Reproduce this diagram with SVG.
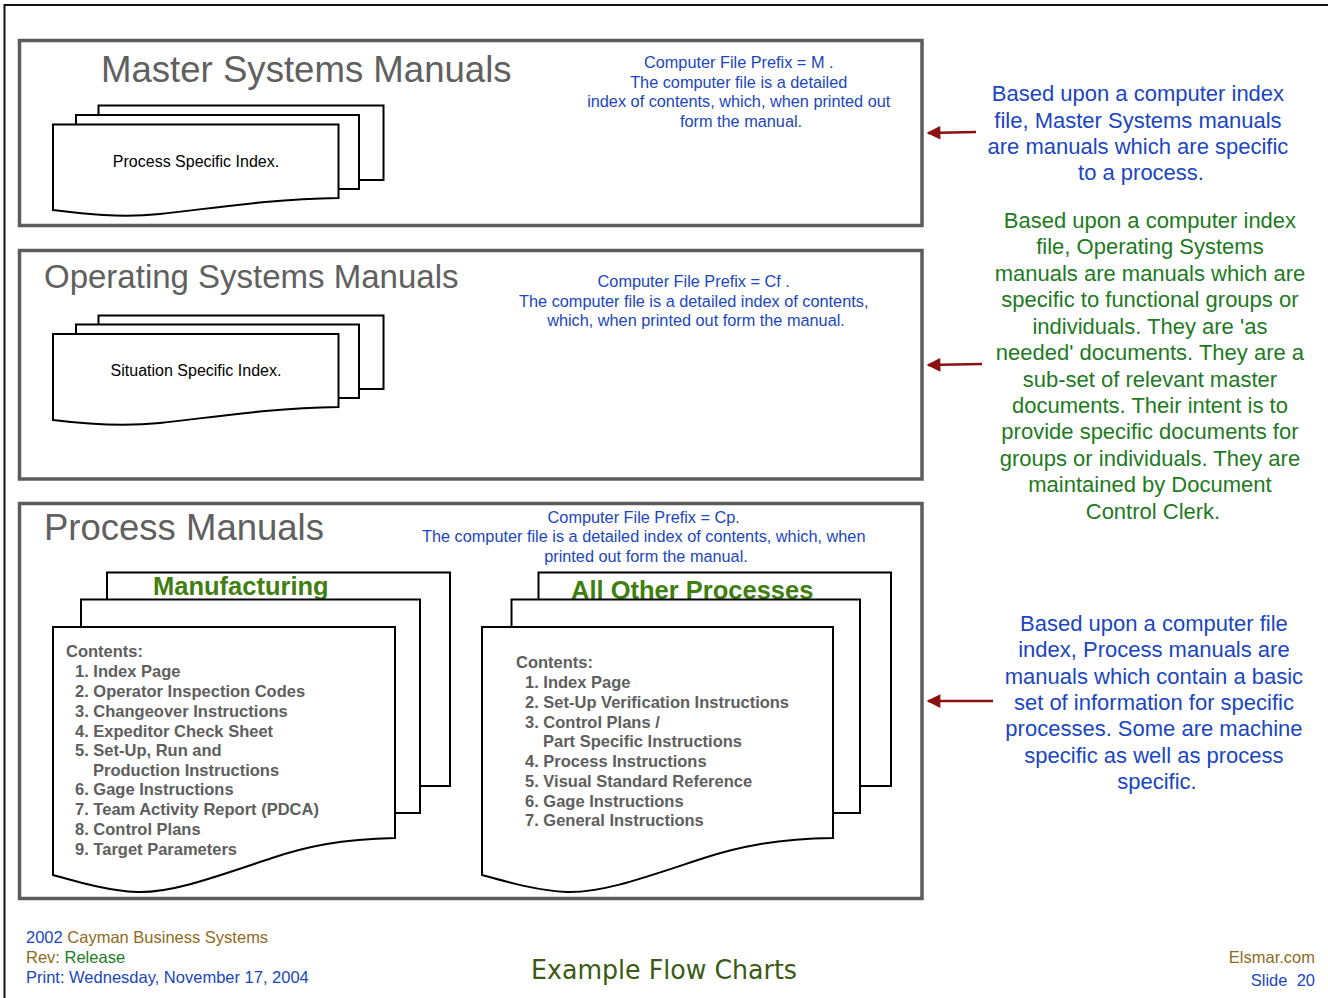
<svg xmlns="http://www.w3.org/2000/svg" width="1328" height="998" viewBox="0 0 1328 998">
  <defs>
    <style>
      .frame { fill: none; stroke: #111; stroke-width: 2; }
      .panel { fill: #fff; stroke: #5c5c5c; stroke-width: 3.5; }
      .page { fill: #fff; stroke: #000; stroke-width: 2; stroke-linejoin: miter; }
      .title { font-family: "Liberation Sans", Arial, sans-serif; fill: #606060; }
      .note { font-family: "Liberation Sans", Arial, sans-serif; font-size: 16.3px; fill: #1a46c0; text-anchor: middle; }
      .label { font-family: "Liberation Sans", Arial, sans-serif; font-size: 16px; fill: #000; text-anchor: middle; }
      .side { font-family: "Liberation Sans", Arial, sans-serif; font-size: 22px; text-anchor: middle; }
      .blue { fill: #1a46c0; }
      .green { fill: #1e7a1e; }
      .brown { fill: #8e6a1c; }
      .heading { font-family: "Liberation Sans", Arial, sans-serif; font-size: 25.5px; font-weight: bold; fill: #3f7f0f; }
      .contents { font-family: "Liberation Sans", Arial, sans-serif; font-size: 16.5px; font-weight: bold; fill: #5e5e5e; }
      .foot { font-family: "Liberation Sans", Arial, sans-serif; font-size: 16.5px; }
      .arrow { stroke: #8b1111; stroke-width: 2.5; fill: none; }
    </style>
    <marker id="head" viewBox="0 0 10 10" refX="9" refY="5" markerWidth="6" markerHeight="5.5" markerUnits="strokeWidth" orient="auto">
      <path d="M0,0 L10,5 L0,10 Z" fill="#8b1111"/>
    </marker>
  </defs>

  <rect width="1328" height="998" fill="#fff"/>
  <!-- page frame -->
  <path class="frame" d="M1328,5 H4.5 V998"/>

  <!-- Master Systems Manuals panel -->
  <g id="master">
    <rect class="panel" x="19.5" y="40.5" width="902.5" height="185"/>
    <text class="title" x="101" y="82" font-size="36.6">Master Systems Manuals</text>
    <text class="note">
      <tspan x="741" y="68">Computer File Prefix = M .</tspan>
      <tspan x="741" y="88">The computer file is a detailed</tspan>
      <tspan x="741" y="107">index of contents, which, when printed out</tspan>
      <tspan x="741" y="127">form the manual.</tspan>
    </text>
    <rect class="page" x="98.5" y="105.5" width="285" height="74.5"/>
    <rect class="page" x="76" y="115" width="283" height="74"/>
    <path class="page" d="M53,124.5 H338.5 V198 C270,199 215,208 160,214 C120,218 85,214 53,210 Z"/>
    <text class="label" x="196" y="167">Process Specific Index.</text>
  </g>

  <!-- Operating Systems Manuals panel -->
  <g id="operating">
    <rect class="panel" x="19.5" y="250.5" width="902.5" height="228.5"/>
    <text class="title" x="44" y="288" font-size="33">Operating Systems Manuals</text>
    <text class="note">
      <tspan x="696" y="287">Computer File Prefix = Cf .</tspan>
      <tspan x="696" y="307">The computer file is a detailed index of contents,</tspan>
      <tspan x="696" y="326">which, when printed out form the manual.</tspan>
    </text>
    <rect class="page" x="98.5" y="315.5" width="285" height="73.5"/>
    <rect class="page" x="76" y="324.5" width="283" height="73.5"/>
    <path class="page" d="M53,334 H338.5 V407 C270,408 215,417 160,423 C120,427 85,424 53,420 Z"/>
    <text class="label" x="196" y="376">Situation Specific Index.</text>
  </g>

  <!-- Process Manuals panel -->
  <g id="process">
    <rect class="panel" x="19.5" y="503.5" width="902.5" height="395"/>
    <text class="title" x="44" y="540" font-size="36.5">Process Manuals</text>
    <text class="note">
      <tspan x="646" y="523">Computer File Prefix = Cp.</tspan>
      <tspan x="646" y="542">The computer file is a detailed index of contents, which, when</tspan>
      <tspan x="646" y="562">printed out form the manual.</tspan>
    </text>
  </g>

  <!-- Manufacturing document stack -->
  <g id="manufacturing">
    <rect class="page" x="107" y="572.5" width="343" height="213.5"/>
    <text class="heading" x="153" y="595">Manufacturing</text>
    <rect class="page" x="81" y="599.5" width="339" height="213.5"/>
    <path class="page" d="M53,627 H395 V838 C340,839 305,847 272,858 C215,877 172,893 137,892 C110,891 82,883 53,875 Z"/>
    <text class="contents">
      <tspan x="66" y="657">Contents:</tspan>
      <tspan x="75" y="677">1. Index Page</tspan>
      <tspan x="75" y="697">2. Operator Inspection Codes</tspan>
      <tspan x="75" y="717">3. Changeover Instructions</tspan>
      <tspan x="75" y="737">4. Expeditor Check Sheet</tspan>
      <tspan x="75" y="756">5. Set-Up, Run and</tspan>
      <tspan x="93" y="776">Production Instructions</tspan>
      <tspan x="75" y="795">6. Gage Instructions</tspan>
      <tspan x="75" y="815">7. Team Activity Report (PDCA)</tspan>
      <tspan x="75" y="835">8. Control Plans</tspan>
      <tspan x="75" y="855">9. Target Parameters</tspan>
    </text>
  </g>

  <!-- All Other Processes document stack -->
  <g id="other-processes">
    <rect class="page" x="538.5" y="572.5" width="352.5" height="213.5"/>
    <text class="heading" x="571" y="599">All Other Processes</text>
    <rect class="page" x="511.5" y="599.5" width="348.5" height="213.5"/>
    <path class="page" d="M482,627 H833 V838 C775,839 738,847 704,858 C646,877 603,893 567,892 C540,891 511,883 482,875 Z"/>
    <text class="contents">
      <tspan x="516" y="668">Contents:</tspan>
      <tspan x="525" y="688">1. Index Page</tspan>
      <tspan x="525" y="708">2. Set-Up Verification Instructions</tspan>
      <tspan x="525" y="728">3. Control Plans /</tspan>
      <tspan x="543" y="747">Part Specific Instructions</tspan>
      <tspan x="525" y="767">4. Process Instructions</tspan>
      <tspan x="525" y="787">5. Visual Standard Reference</tspan>
      <tspan x="525" y="807">6. Gage Instructions</tspan>
      <tspan x="525" y="826">7. General Instructions</tspan>
    </text>
  </g>

  <!-- side descriptions -->
  <g id="master-note">
    <text class="side blue">
      <tspan x="1141" y="101">Based upon a computer index</tspan>
      <tspan x="1141" y="128">file, Master Systems manuals</tspan>
      <tspan x="1141" y="154">are manuals which are specific</tspan>
      <tspan x="1141" y="180">to a process.</tspan>
    </text>
  </g>
  <g id="operating-note">
    <text class="side green">
      <tspan x="1153" y="228">Based upon a computer index</tspan>
      <tspan x="1153" y="254">file, Operating Systems</tspan>
      <tspan x="1153" y="281">manuals are manuals which are</tspan>
      <tspan x="1153" y="307">specific to functional groups or</tspan>
      <tspan x="1153" y="334">individuals. They are 'as</tspan>
      <tspan x="1153" y="360">needed' documents. They are a</tspan>
      <tspan x="1153" y="387">sub-set of relevant master</tspan>
      <tspan x="1153" y="413">documents. Their intent is to</tspan>
      <tspan x="1153" y="439">provide specific documents for</tspan>
      <tspan x="1153" y="466">groups or individuals. They are</tspan>
      <tspan x="1153" y="492">maintained by Document</tspan>
      <tspan x="1153" y="519">Control Clerk.</tspan>
    </text>
  </g>
  <g id="process-note">
    <text class="side blue">
      <tspan x="1157" y="631">Based upon a computer file</tspan>
      <tspan x="1157" y="657">index, Process manuals are</tspan>
      <tspan x="1157" y="684">manuals which contain a basic</tspan>
      <tspan x="1157" y="710">set of information for specific</tspan>
      <tspan x="1157" y="736">processes. Some are machine</tspan>
      <tspan x="1157" y="763">specific as well as process</tspan>
      <tspan x="1157" y="789">specific.</tspan>
    </text>
  </g>

  <!-- connectors -->
  <g id="connectors">
    <line class="arrow" x1="976" y1="132" x2="928" y2="133" marker-end="url(#head)"/>
    <line class="arrow" x1="982" y1="364" x2="928" y2="365" marker-end="url(#head)"/>
    <line class="arrow" x1="993" y1="701" x2="928" y2="701" marker-end="url(#head)"/>
  </g>

  <!-- footer -->
  <g id="footer">
    <text class="foot" x="26" y="943"><tspan class="blue">2002</tspan><tspan class="brown"> Cayman Business Systems</tspan></text>
    <text class="foot" x="26" y="963"><tspan class="brown">Rev:</tspan><tspan class="green"> Release</tspan></text>
    <text class="foot blue" x="26" y="983">Print: Wednesday, November 17, 2004</text>
    <text class="foot brown" x="1315" y="963" text-anchor="end" font-size="17.5">Elsmar.com</text>
    <text class="foot blue" x="1315" y="986" text-anchor="end" font-size="17.5" xml:space="preserve">Slide  20</text>
    <text x="664" y="979" text-anchor="middle" font-family="DejaVu Sans, sans-serif" font-size="26" fill="#3a5a14" textLength="266" lengthAdjust="spacingAndGlyphs">Example Flow Charts</text>
  </g>
</svg>
